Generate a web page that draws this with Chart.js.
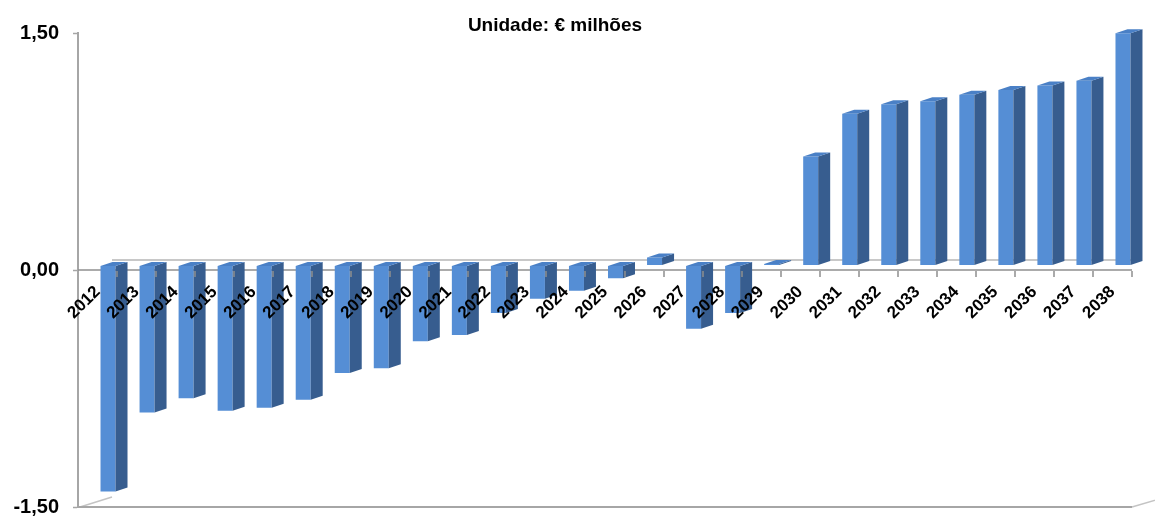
<!DOCTYPE html>
<html>
<head>
<meta charset="utf-8">
<script src="https://cdn.jsdelivr.net/npm/chart.js@4.4.1/dist/chart.umd.min.js"></script>
<style>
  html, body { margin: 0; padding: 0; background: #ffffff; }
  #wrap { width: 1155px; height: 518px; }
</style>
</head>
<body>
<div id="wrap"><canvas id="chart" width="1155" height="518"></canvas></div>
<script>
// Annual balance, € millions
const years = ['2012','2013','2014','2015','2016','2017','2018','2019','2020','2021',
               '2022','2023','2024','2025','2026','2027','2028','2029','2030','2031',
               '2032','2033','2034','2035','2036','2037','2038'];
const balance = [-1.43, -0.93, -0.84, -0.92, -0.90, -0.85, -0.68, -0.65, -0.48, -0.44,
                 -0.30, -0.21, -0.16, -0.08, 0.05, -0.40, -0.30, 0.01, 0.69, 0.96,
                 1.02, 1.04, 1.08, 1.11, 1.14, 1.17, 1.47];
const yTickValues = [-1.5, 0, 1.5];
const titleText = 'Unidade: € milhões';

const FONT = "'Liberation Sans', Arial, Helvetica, sans-serif";
const FRONT = '#558ed5';
const SIDE = '#375d8f';
const TOP = '#4a80c6';
const AXIS_GREY = '#a6a6a6';

// extruded look: bars sit mid-depth, side/top faces offset by BAR_D
const BAR_SHIFT = { x: 10.5, y: -4.5 };
const BAR_D = { x: 12, y: -4 };
const WALL_D = { x: 34, y: -10 };

const depthPlugin = {
  id: 'depth3d',
  beforeDatasetsDraw(chart) {
    const { ctx, chartArea: a, scales } = chart;
    const y0 = scales.y.getPixelForValue(0);
    ctx.save();
    // back zero line on the wall
    ctx.strokeStyle = '#c8c8c8';
    ctx.lineWidth = 2.2;
    ctx.beginPath();
    ctx.moveTo(a.left + WALL_D.x, y0 + WALL_D.y);
    ctx.lineTo(a.right + 10, y0 + WALL_D.y);
    ctx.stroke();
    // floor edges
    ctx.strokeStyle = '#c4c4c4';
    ctx.lineWidth = 1.5;
    ctx.beginPath();
    ctx.moveTo(a.left + 2, a.bottom);
    ctx.lineTo(a.left + WALL_D.x, a.bottom + WALL_D.y);
    ctx.moveTo(a.right, a.bottom);
    ctx.lineTo(a.right + WALL_D.x, a.bottom + WALL_D.y);
    ctx.stroke();
    ctx.strokeStyle = AXIS_GREY;
    ctx.lineWidth = 2;
    ctx.beginPath();
    ctx.moveTo(a.left, a.bottom);
    ctx.lineTo(a.right, a.bottom);
    ctx.stroke();
    // front zero line
    ctx.strokeStyle = '#8f8f8f';
    ctx.lineWidth = 1.5;
    ctx.beginPath();
    ctx.moveTo(a.left, y0);
    ctx.lineTo(a.right, y0);
    ctx.stroke();
    ctx.restore();

    ctx.save();
    ctx.translate(BAR_SHIFT.x, BAR_SHIFT.y);
  },
  afterDatasetsDraw(chart) {
    const { ctx, scales, chartArea: a } = chart;
    chart.getDatasetMeta(0).data.forEach((bar) => {
      const p = bar.getProps(['x', 'y', 'base', 'width'], true);
      const l = p.x - p.width / 2;
      const r = p.x + p.width / 2;
      const t = Math.min(p.y, p.base);
      const b = Math.max(p.y, p.base);
      // side face
      ctx.fillStyle = SIDE;
      ctx.beginPath();
      ctx.moveTo(r, t);
      ctx.lineTo(r + BAR_D.x, t + BAR_D.y);
      ctx.lineTo(r + BAR_D.x, b + BAR_D.y);
      ctx.lineTo(r, b);
      ctx.closePath();
      ctx.fill();
      // top face
      ctx.fillStyle = TOP;
      ctx.beginPath();
      ctx.moveTo(l, t);
      ctx.lineTo(l + BAR_D.x, t + BAR_D.y);
      ctx.lineTo(r + BAR_D.x, t + BAR_D.y);
      ctx.lineTo(r, t);
      ctx.closePath();
      ctx.fill();
    });
    ctx.restore();

    // category boundary tick marks below the zero line
    const xs = scales.x;
    const y0 = scales.y.getPixelForValue(0);
    const step = (a.right - a.left) / years.length;
    ctx.save();
    ctx.strokeStyle = '#8f8f8f';
    ctx.lineWidth = 1.5;
    ctx.beginPath();
    for (let i = 0; i < years.length; i++) {
      const x = Math.round(xs.getPixelForValue(i) + step / 2);
      ctx.moveTo(x, y0 + 1);
      ctx.lineTo(x, y0 + 7);
    }
    ctx.stroke();
    ctx.restore();
  },
  afterDraw(chart) {
    const { ctx } = chart;
    ctx.save();
    ctx.fillStyle = '#000000';
    ctx.font = 'bold 19px ' + FONT;
    ctx.textAlign = 'center';
    ctx.textBaseline = 'alphabetic';
    ctx.fillText(titleText, 555, 31);
    ctx.restore();
  }
};

new Chart(document.getElementById('chart'), {
  type: 'bar',
  data: {
    labels: years,
    datasets: [{
      data: balance,
      backgroundColor: FRONT,
      borderWidth: 0,
      barPercentage: 0.384,
      categoryPercentage: 1.0
    }]
  },
  options: {
    responsive: false,
    animation: false,
    devicePixelRatio: 1,
    layout: { padding: { left: 0, right: 23, top: 33, bottom: 11 } },
    plugins: { legend: { display: false }, title: { display: false }, tooltip: { enabled: false } },
    scales: {
      x: {
        type: 'category',
        position: { y: 0 },
        offset: true,
        afterFit(scale) {
          scale.height = 0;
          scale.paddingTop = 0;
          scale.paddingBottom = 0;
        },
        border: { display: false },
        grid: {
          display: false,
          drawOnChartArea: false,
          drawTicks: false
        },
        ticks: {
          z: 1,
          autoSkip: false,
          minRotation: 45,
          maxRotation: 45,
          labelOffset: 0,
          padding: 12,
          color: '#000000',
          font: { family: FONT, size: 17, weight: 'bold' }
        }
      },
      y: {
        type: 'linear',
        min: -1.5,
        max: 1.5,
        afterBuildTicks(scale) {
          scale.ticks = yTickValues.map((v) => ({ value: v }));
        },
        afterFit(scale) {
          scale.width = 78;
          scale.paddingTop = 0;
          scale.paddingBottom = 0;
        },
        border: { display: true, color: AXIS_GREY, width: 2 },
        grid: {
          drawOnChartArea: false,
          drawTicks: true,
          tickLength: 5,
          tickColor: AXIS_GREY,
          tickWidth: 1.5
        },
        ticks: {
          padding: 14,
          color: '#000000',
          font: { family: FONT, size: 20, weight: 'bold' },
          callback: (v) => Number(v).toFixed(2).replace('.', ',')
        }
      }
    }
  },
  plugins: [depthPlugin]
});
</script>
</body>
</html>
